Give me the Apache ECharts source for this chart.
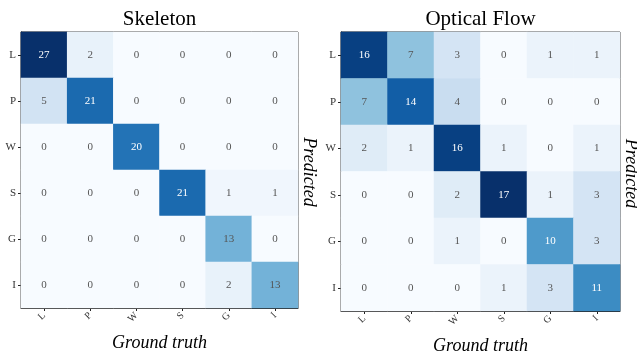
<!DOCTYPE html>
<html>
<head>
<meta charset="utf-8">
<script src="https://cdn.jsdelivr.net/npm/echarts@6/dist/echarts.min.js"></script>
<style>html,body{margin:0;padding:0;background:#fff;}#c{width:637px;height:352px;}</style>
</head>
<body>
<div id="c"></div>
<script>
const classes = ['L', 'P', 'W', 'S', 'G', 'I'];
const titles = ['Skeleton', 'Optical Flow'];
// rows = predicted (L..I top to bottom), columns = ground truth
const skeletonMatrix = [
  [27, 2, 0, 0, 0, 0],
  [5, 21, 0, 0, 0, 0],
  [0, 0, 20, 0, 0, 0],
  [0, 0, 0, 21, 1, 1],
  [0, 0, 0, 0, 13, 0],
  [0, 0, 0, 0, 2, 13]
];
const flowMatrix = [
  [16, 7, 3, 0, 1, 1],
  [7, 14, 4, 0, 0, 0],
  [2, 1, 16, 1, 0, 1],
  [0, 0, 2, 17, 1, 3],
  [0, 0, 1, 0, 10, 3],
  [0, 0, 0, 1, 3, 11]
];
const blues = ['#f7fbff','#deebf7','#c6dbef','#9ecae1','#6baed6','#4292c6','#2171b5','#08519c','#08306b'];

const serif = '"Liberation Serif", "DejaVu Serif", serif';
const matrices = [skeletonMatrix, flowMatrix];
const grids = [
  {left: 21, top: 32, width: 277, height: 276},
  {left: 341, top: 32, width: 279, height: 279}
];

function toData(m) {
  const d = [];
  m.forEach((row, r) => row.forEach((v, c) => d.push([c, r, v])));
  return d;
}

const option = {
  backgroundColor: '#fff',
  animation: false,
  grid: grids.map(g => Object.assign({show: true, borderColor: '#222', borderWidth: 1, backgroundColor: 'transparent', containLabel: false, outerBoundsMode: 'none'}, g)),
  xAxis: grids.map((g, i) => ({
    type: 'category', gridIndex: i, data: classes,
    axisLine: {show: true, lineStyle: {color: '#222'}},
    axisTick: {show: true, alignWithLabel: true, length: 3, lineStyle: {color: '#222'}},
    axisLabel: {rotate: 45, fontFamily: serif, fontSize: 10, color: '#333', margin: 6},
    splitLine: {show: false},
    name: 'Ground truth', nameLocation: 'middle', nameGap: 26,
    nameTextStyle: {fontFamily: serif, fontStyle: 'italic', fontSize: 18, color: '#000'}
  })),
  yAxis: grids.map((g, i) => ({
    type: 'category', gridIndex: i, data: classes, inverse: true,
    axisLine: {show: true, lineStyle: {color: '#222'}},
    axisTick: {show: true, alignWithLabel: true, length: 3, lineStyle: {color: '#222'}},
    axisLabel: {fontFamily: serif, fontSize: 11, color: '#333', margin: 5},
    splitLine: {show: false}
  })),
  visualMap: matrices.map((m, i) => ({
    show: false, seriesIndex: i, min: 0,
    max: Math.max(...m.flat()),
    inRange: {color: blues}
  })),
  series: matrices.map((m, i) => {
    const mx = Math.max(...m.flat());
    return {
      type: 'heatmap', xAxisIndex: i, yAxisIndex: i,
      data: toData(m).map(d => ({
        value: d,
        label: {color: d[2] > mx / 2 ? '#ffffff' : '#555555'}
      })),
      itemStyle: {borderWidth: 0},
      label: {
        show: true, fontFamily: serif, fontSize: 11,
        formatter: p => p.value[2]
      }
    };
  }),
  graphic: grids.map((g, i) => ({
    type: 'text',
    x: g.left + g.width / 2,
    y: 19,
    style: {
      text: titles[i], fontFamily: serif, fontSize: 21,
      fill: '#000', align: 'center', verticalAlign: 'middle'
    }
  })).concat(grids.map(g => ({
    type: 'text',
    x: g.left + g.width + 11,
    y: g.top + g.height / 2 + 2,
    rotation: -Math.PI / 2,
    style: {
      text: 'Predicted', fontFamily: serif, fontStyle: 'italic', fontSize: 18,
      fill: '#000', align: 'center', verticalAlign: 'middle'
    }
  })))
};

const chart = echarts.init(document.getElementById('c'), null, {renderer: 'canvas'});
chart.setOption(option);
</script>
</body>
</html>
